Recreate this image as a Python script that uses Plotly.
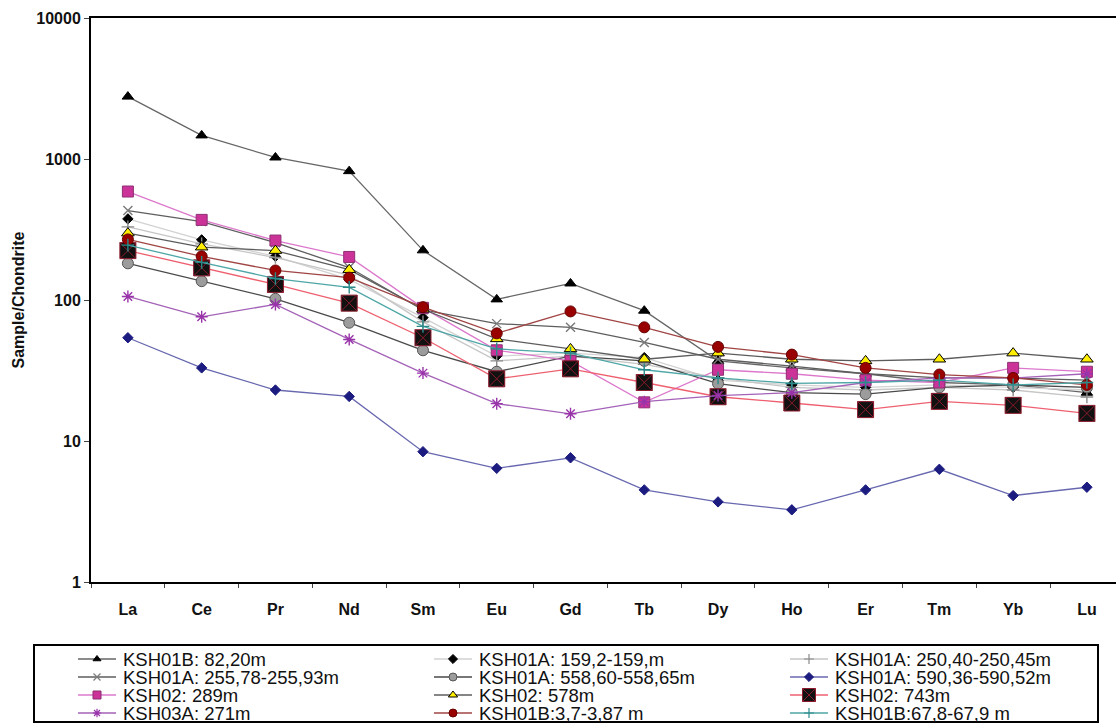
import plotly.graph_objects as go

# Chondrite-normalised REE patterns
elements = ["La", "Ce", "Pr", "Nd", "Sm", "Eu", "Gd", "Tb", "Dy", "Ho", "Er", "Tm", "Yb", "Lu"]

sample_names = [
    "KSH01B: 82,20m",
    "KSH01A: 159,2-159,m",
    "KSH01A: 250,40-250,45m",
    "KSH01A: 255,78-255,93m",
    "KSH01A: 558,60-558,65m",
    "KSH01A: 590,36-590,52m",
    "KSH02: 289m",
    "KSH02: 578m",
    "KSH02: 743m",
    "KSH03A: 271m",
    "KSH01B:3,7-3,87 m",
    "KSH01B:67,8-67,9 m",
]

ksh01b_82_20 = [2770, 1470, 1025, 820, 225, 101, 131, 84, 37, 33, 30, 26, 25, 22]
ksh01a_159_2 = [376, 267, 204, 140, 75, 40, 42, 39, 27, 25, 24, 25, 24, 23]
ksh01a_250_40 = [330, 250, 200, 150, 70, 37, 40, 35, 28, 24, 23, 24, 23, 20.5]
ksh01a_255_78 = [431, 360, 255, 170, 85, 68, 64, 50, 38, 34, 30, 28, 28, 27]
ksh01a_558_60 = [182, 136, 102, 69, 44, 31, 40, 37, 25.5, 22, 21.5, 24, 25, 24]
ksh01a_590_36 = [54, 33, 23, 20.7, 8.4, 6.4, 7.6, 4.5, 3.7, 3.25, 4.5, 6.3, 4.1, 4.7]
ksh02_289 = [588, 370, 264, 202, 88, 44, 37, 18.8, 32, 30, 27, 26, 33, 31]
ksh02_578 = [298, 237, 224, 164, 86, 53, 45, 38, 42, 38, 37, 38, 42, 38]
ksh02_743 = [224, 169, 129, 95, 54, 27.6, 32.5, 26, 20.6, 18.6, 16.7, 19.1, 17.9, 15.7]
ksh03a_271 = [106, 76, 93, 52.5, 30.3, 18.4, 15.6, 19, 21, 22, 26, 28, 28, 30]
ksh01b_3_7 = [269, 204, 162, 144, 89, 58, 83, 64, 46.5, 41, 33, 29.6, 28, 25]
ksh01b_67_8 = [245, 185, 142, 123, 65, 45, 42, 32, 28, 25.6, 26, 27, 25, 26]

series_values = [
    ksh01b_82_20, ksh01a_159_2, ksh01a_250_40, ksh01a_255_78,
    ksh01a_558_60, ksh01a_590_36, ksh02_289, ksh02_578,
    ksh02_743, ksh03a_271, ksh01b_3_7, ksh01b_67_8,
]

y_tick_values = [1, 10, 100, 1000, 10000]
y_tick_labels = ["1", "10", "100", "1000", "10000"]

# line colour, marker symbol, marker fill, marker outline, marker size
styles = [
    ("#666666", "triangle-up", "#000000", "#000000", 10),
    ("#d2d2d2", "diamond", "#000000", "#000000", 8),
    ("#c6c6c6", "cross-thin", "#8a8a8a", "#8a8a8a", 9),
    ("#5e5e5e", "x-thin", "#7a7a7a", "#7a7a7a", 9),
    ("#4a4a4a", "circle", "#9c9c9c", "#555555", 11),
    ("#6868b0", "diamond", "#1c1c80", "#1c1c80", 8),
    ("#dc78cc", "square", "#cc3399", "#8e2f73", 11),
    ("#5c5c5c", "triangle-up", "#ffee00", "#000000", 11),
    ("#ee6070", "square-x", "#111111", "#8c1a2c", 16),
    ("#a462b8", "asterisk", "#9933aa", "#9933aa", 10),
    ("#a04444", "circle", "#990000", "#660000", 11),
    ("#4ea6a6", "cross-thin", "#2a8a8a", "#2a8a8a", 9),
]

FONT = "Arial, Liberation Sans, Helvetica, sans-serif"
W, H = 1116, 724
plot_left, plot_top, plot_bottom = 91, 18, 582
band = 73.77
legend_top = 642

fig = go.Figure()

for name, vals, (lc, sym, fill, edge, size) in zip(sample_names, series_values, styles):
    thin = sym.endswith("-thin") or sym == "asterisk"
    fig.add_trace(go.Scatter(
        x=elements, y=vals, name=name, mode="lines+markers",
        line=dict(color=lc, width=1.3),
        marker=dict(symbol=sym, size=size, color=fill,
                    line=dict(color=edge, width=1.4 if thin else 1)),
        showlegend=False, cliponaxis=False,
    ))

# Legend block: three columns, drawn on a pixel-scaled helper axis under the plot
col_x = [97, 453, 809]
row_y = [659, 677, 695, 713]
for i, (name, (lc, sym, fill, edge, size)) in enumerate(zip(sample_names, styles)):
    cx, cy = col_x[i % 3], row_y[i // 3]
    thin = sym.endswith("-thin") or sym == "asterisk"
    fig.add_trace(go.Scatter(
        x=[cx - 19, cx + 19], y=[cy, cy], mode="lines",
        line=dict(color=lc, width=1.3), xaxis="x2", yaxis="y2",
        showlegend=False, hoverinfo="skip", cliponaxis=False,
    ))
    fig.add_trace(go.Scatter(
        x=[cx], y=[cy], mode="markers",
        marker=dict(symbol=sym, size=max(size - 3, 7), color=fill,
                    line=dict(color=edge, width=1.2 if thin else 1)),
        xaxis="x2", yaxis="y2", showlegend=False, hoverinfo="skip",
        cliponaxis=False,
    ))
    fig.add_annotation(
        x=cx + 24, y=cy, xref="x2", yref="y2", text=name, showarrow=False,
        xanchor="left", yanchor="middle",
        font=dict(family=FONT, size=18.5, color="#111111"),
    )

fig.add_shape(type="rect", xref="x2", yref="y2", x0=34, x1=1098, y0=645, y1=722,
              line=dict(color="#000000", width=2), fillcolor="rgba(0,0,0,0)",
              layer="below")

fig.update_layout(
    width=W, height=H,
    margin=dict(l=0, r=0, t=0, b=0, autoexpand=False),
    paper_bgcolor="white", plot_bgcolor="rgba(0,0,0,0)",
    font=dict(family=FONT, color="#000000"),
    xaxis=dict(
        type="category", categoryorder="array", categoryarray=elements,
        domain=[plot_left / W, 1],
        range=[-0.5, (W - plot_left) / band - 0.5],
        showgrid=False, zeroline=False,
        showline=True, linecolor="#000000", linewidth=2, mirror=True,
        ticks="outside", tickson="boundaries", ticklen=4, tickcolor="#444444",
        tickfont=dict(family=FONT, size=16, weight="bold", color="#111111"),
        ticklabelstandoff=12, automargin=False,
    ),
    yaxis=dict(
        type="log", range=[0, 4],
        domain=[(H - plot_bottom) / H, (H - plot_top) / H],
        tickvals=y_tick_values, ticktext=y_tick_labels,
        showgrid=False, zeroline=False,
        showline=True, linecolor="#000000", linewidth=2,
        ticks="outside", ticklen=5, tickcolor="#444444",
        tickfont=dict(family=FONT, size=16, weight="bold", color="#111111"),
        title=dict(text="Sample/Chondrite", standoff=8,
                   font=dict(family=FONT, size=16, weight="bold", color="#111111")),
        automargin=False,
    ),
    xaxis2=dict(domain=[0, 1], range=[0, W], visible=False, fixedrange=True),
    yaxis2=dict(domain=[0, (H - legend_top) / H], range=[H, legend_top],
                visible=False, fixedrange=True),
)

fig.write_html("out.html")
